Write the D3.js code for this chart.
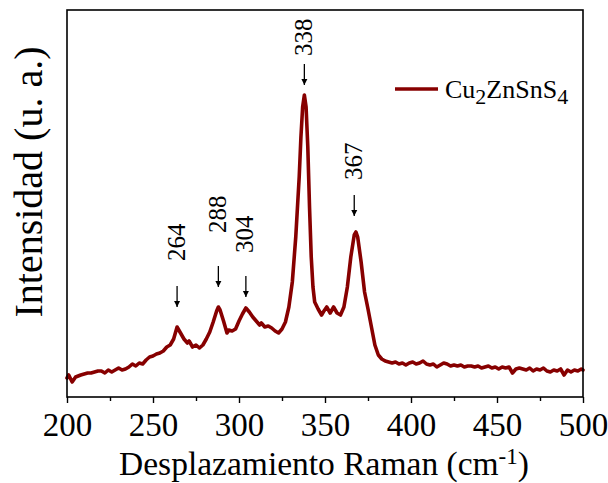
<!DOCTYPE html>
<html>
<head>
<meta charset="utf-8">
<script src="https://cdn.jsdelivr.net/npm/d3@7"></script>
<style>
  html, body { margin: 0; padding: 0; background: #fff; }
  svg { display: block; }
  svg text { font-family: 'Liberation Serif', 'Times New Roman', serif; }
</style>
</head>
<body>
<svg id="chart" width="608" height="483"></svg>
<script>
// Raman spectrum of Cu2ZnSnS4 (arbitrary intensity units)
const ramanShift = [
  200,201,203,205,208,210,212,214,216,218,220,222,224,226,228,230,232,234,236,238,
  240,242,244,246,248,250,252,254,256,258,260,262,264,266,268,270,271,273,275,277,
  279,281,283,285,287,288,289,291,293,294,296,298,300,302,304,306,308,310,312,313,
  315,317,319,321,323,325,327,329,331,333,335,336,337,338,339,340,341,342,343,344,
  346,348,349,351,353,355,357,359,361,363,365,367,368,369,371,373,375,377,379,381,
  383,385,387,389,391,393,395,397,399,401,403,405,407,409,411,413,415,417,419,421,
  423,425,427,429,431,433,435,437,439,441,443,445,447,449,451,453,455,457,459,461,
  463,465,467,469,471,473,475,477,479,481,483,485,487,489,491,493,495,497,499,500
];
const intensity = [
  19,22,15,20,22,23,24,24,25,26,26,24,27,25,27,29,27,28,30,33,
  31,34,33,37,40,41,43,44,46,50,52,58,70,64,58,54,56,50,52,49,
  52,58,65,75,86,90,87,76,64,67,66,68,76,83,89,85,80,76,72,74,
  70,71,69,66,64,68,75,90,115,160,220,260,290,302,290,250,190,140,110,95,
  88,82,85,90,84,90,84,82,90,110,140,162,165,160,135,105,88,70,52,42,
  38,36,35,34,35,33,34,32,34,35,33,34,36,33,32,33,30,32,34,33,
  31,32,31,32,30,31,31,30,31,29,30,31,29,30,28,30,29,30,24,28,
  29,28,27,29,26,28,27,29,26,25,27,26,28,22,27,25,27,26,28,27
];

// Peak assignments marked with arrows
const peakPositions = [264, 288, 304, 338, 367];
const peakLabels = ["264", "288", "304", "338", "367"];

const xTicks = [200, 250, 300, 350, 400, 450, 500];
const xMinorTicks = [225, 275, 325, 375, 425, 475];

const lineColor = "#870000";
const serif = "'Liberation Serif', 'Times New Roman', serif";

// Per-annotation spacing (px): gap between peak and arrow tip, gap between arrow tail and label
const annotationLayout = [
  { tipGap: 20, labelGap: 25 },
  { tipGap: 20, labelGap: 33 },
  { tipGap: 11, labelGap: 23 },
  { tipGap: 10, labelGap: 8 },
  { tipGap: 16, labelGap: 15 }
];

const margin = { top: 10, left: 67, right: 25, bottom: 86 };
const W = 608, H = 483;
const iw = W - margin.left - margin.right;
const ih = H - margin.top - margin.bottom;

const svg = d3.select("#chart");
const g = svg.append("g").attr("transform", `translate(${margin.left},${margin.top})`);

const x = d3.scaleLinear().domain([200, 500]).range([0, iw]);
const y = d3.scaleLinear().domain([0, 387]).range([ih, 0]);

const data = ramanShift.map((v, i) => ({ x: v, y: intensity[i] }));

// Spectrum line
g.append("path")
  .datum(data)
  .attr("fill", "none")
  .attr("stroke", lineColor)
  .attr("stroke-width", 3.6)
  .attr("stroke-linejoin", "round")
  .attr("stroke-linecap", "round")
  .attr("d", d3.line().x(d => x(d.x)).y(d => y(d.y)));

// Frame
g.append("rect")
  .attr("x", 0).attr("y", 0).attr("width", iw).attr("height", ih)
  .attr("fill", "none").attr("stroke", "#000").attr("stroke-width", 1.6);

// Bottom axis with major and minor ticks
const xAxis = g.append("g").attr("transform", `translate(0,${ih})`)
  .call(d3.axisBottom(x).tickValues(xTicks).tickFormat(d3.format("d")).tickSize(6).tickPadding(10));
xAxis.attr("font-family", serif);
xAxis.select(".domain").remove();
xAxis.selectAll(".tick line").attr("stroke", "#000").attr("stroke-width", 1.4);
xAxis.selectAll(".tick text")
  .style("font-family", serif)
  .attr("font-size", 33).attr("fill", "#000");

g.append("g").attr("transform", `translate(0,${ih})`)
  .call(d3.axisBottom(x).tickValues(xMinorTicks).tickFormat("").tickSize(4))
  .call(a => a.select(".domain").remove())
  .selectAll(".tick line").attr("stroke", "#000").attr("stroke-width", 1.4);

// Axis titles
const xTitle = svg.append("text")
  .attr("x", 324).attr("y", 475)
  .attr("text-anchor", "middle")
  .style("font-family", serif)
  .attr("font-size", 33.5).attr("fill", "#000");
xTitle.append("tspan").text("Desplazamiento Raman (cm");
xTitle.append("tspan").attr("font-size", 23).attr("dy", -11).text("-1");
xTitle.append("tspan").attr("dy", 11).text(")");

svg.append("text")
  .attr("transform", `translate(42,182) rotate(-90)`)
  .attr("text-anchor", "middle")
  .style("font-family", serif)
  .attr("font-size", 40).attr("fill", "#000")
  .text("Intensidad (u. a.)");

// Arrow marker
svg.append("defs").append("marker")
  .attr("id", "arrowhead")
  .attr("viewBox", "0 0 10 10")
  .attr("refX", 10).attr("refY", 5)
  .attr("markerWidth", 6).attr("markerHeight", 7)
  .attr("markerUnits", "userSpaceOnUse")
  .attr("orient", "auto")
  .append("path").attr("d", "M0,0 L10,5 L0,10 Z").attr("fill", "#000");

// Peak annotations
const peakHeight = p => {
  let best = 0;
  data.forEach(d => { if (Math.abs(d.x - p) <= 2 && d.y > best) best = d.y; });
  return best;
};
const annot = g.append("g");
peakPositions.forEach((p, i) => {
  const px = x(p);
  const lay = annotationLayout[i];
  const tip = y(peakHeight(p)) - lay.tipGap;
  const tail = tip - 21;
  annot.append("line")
    .attr("x1", px).attr("x2", px)
    .attr("y1", tail).attr("y2", tip)
    .attr("stroke", "#000").attr("stroke-width", 1.3)
    .attr("marker-end", "url(#arrowhead)");
  annot.append("text")
    .attr("transform", `translate(${px - 1},${tail - lay.labelGap}) rotate(-90)`)
    .attr("text-anchor", "start")
    .attr("dominant-baseline", "central")
    .style("font-family", serif)
    .attr("font-size", 25).attr("fill", "#000")
    .text(peakLabels[i]);
});

// Legend
const lg = svg.append("g").attr("transform", "translate(395,89)");
lg.append("line").attr("x1", 0).attr("x2", 43).attr("y1", 0).attr("y2", 0)
  .attr("stroke", lineColor).attr("stroke-width", 3.6);
const lt = lg.append("text").attr("x", 50).attr("y", 9)
  .style("font-family", serif)
  .attr("font-size", 26).attr("fill", "#000");
lt.append("tspan").text("Cu");
lt.append("tspan").attr("font-size", 22).attr("dy", 6).text("2");
lt.append("tspan").attr("dy", -6).text("ZnSnS");
lt.append("tspan").attr("font-size", 22).attr("dy", 6).text("4");
</script>
</body>
</html>
